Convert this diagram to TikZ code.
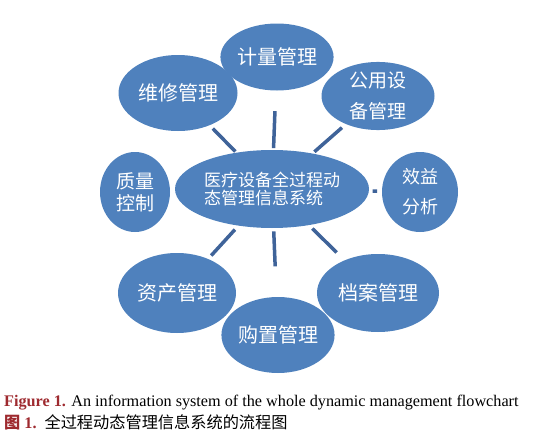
\documentclass[tikz,border=0pt]{standalone}
\usepackage{fontspec}
\setmainfont{Liberation Serif}
\newfontfamily\cjk{Noto Sans CJK SC}
\usetikzlibrary{shapes.geometric,calc}
\definecolor{bubblefill}{HTML}{4F81BD}
\definecolor{spokecol}{HTML}{3F6399}
\definecolor{capred}{HTML}{9E2A2F}
\tikzset{
bubble/.style  = {ellipse, fill=bubblefill, text=white, inner sep=0pt, align=center, font=\cjk\fontsize{19}{21}\selectfont},
spoke/.style   = {draw=spokecol, line width=3.5pt},
caption/.style = {anchor=west, inner sep=0pt}
}

\begin{document}
\begin{tikzpicture}[x=1pt, y=-1pt]
  \useasboundingbox (0,0) rectangle (539,439);

  \node [bubble, minimum width=194pt, minimum height=78pt, align=left,
         font=\cjk\fontsize{17}{18.5}\selectfont]               (sys)      at (272,189) {医疗设备全过程动\\态管理信息系统};
  \node [bubble, minimum width=107pt, minimum height=67pt,
         font=\cjk\fontsize{20}{22}\selectfont]                 (jiliang)  at (277,57)  {计量管理};
  \node [bubble, minimum width=119pt, minimum height=76pt,
         font=\cjk\fontsize{20}{22}\selectfont]                 (weixiu)   at (178,93)  {维修管理};
  \node [bubble, minimum width=113pt, minimum height=67pt]      (gongyong) at (378,96)  {公用设\\[10pt]备管理};
  \node [bubble, minimum width=70pt,  minimum height=80pt]      (zhiliang) at (135,192) {质量\\[1pt]控制};
  \node [bubble, minimum width=76pt,  minimum height=80pt,
         font=\cjk\fontsize{18}{21}\selectfont]                 (xiaoyi)   at (420,192) {效益\\[9pt]分析};
  \node [bubble, minimum width=118pt, minimum height=80pt,
         font=\cjk\fontsize{20}{22}\selectfont]                 (zichan)   at (177,293) {资产管理};
  \node [bubble, minimum width=122pt, minimum height=78pt,
         font=\cjk\fontsize{20}{22}\selectfont]                 (dangan)   at (378,293) {档案管理};
  \node [bubble, minimum width=108pt, minimum height=76pt,
         font=\cjk\fontsize{20}{22}\selectfont]                 (gouzhi)   at (278,335) {购置管理};

  % short spokes between the centre and the outer bubbles
  \foreach \n/\a/\b in {jiliang/0.31/0.59, weixiu/0.39/0.63, gongyong/0.40/0.66,
                        zichan/0.39/0.64, gouzhi/0.29/0.53, dangan/0.38/0.61,
                        xiaoyi/0.68/0.71}
    \draw [spoke] ($(sys)!\a!(\n)$) -- ($(sys)!\b!(\n)$);

  \node [caption, font=\fontsize{16.2}{18}\selectfont] (cap1) at (4,403)
    {\textcolor{capred}{\textbf{Figure 1.}} An information system of the whole dynamic management flowchart};
  \node [caption, font=\fontsize{16.2}{18}\selectfont] (cap2) at (4,422)
    {\textcolor{capred}{\textbf{{\cjk 图} 1.}}\hspace{8pt}{\cjk\fontsize{16.2}{18}\selectfont 全过程动态管理信息系统的流程图}};
\end{tikzpicture}
\end{document}
